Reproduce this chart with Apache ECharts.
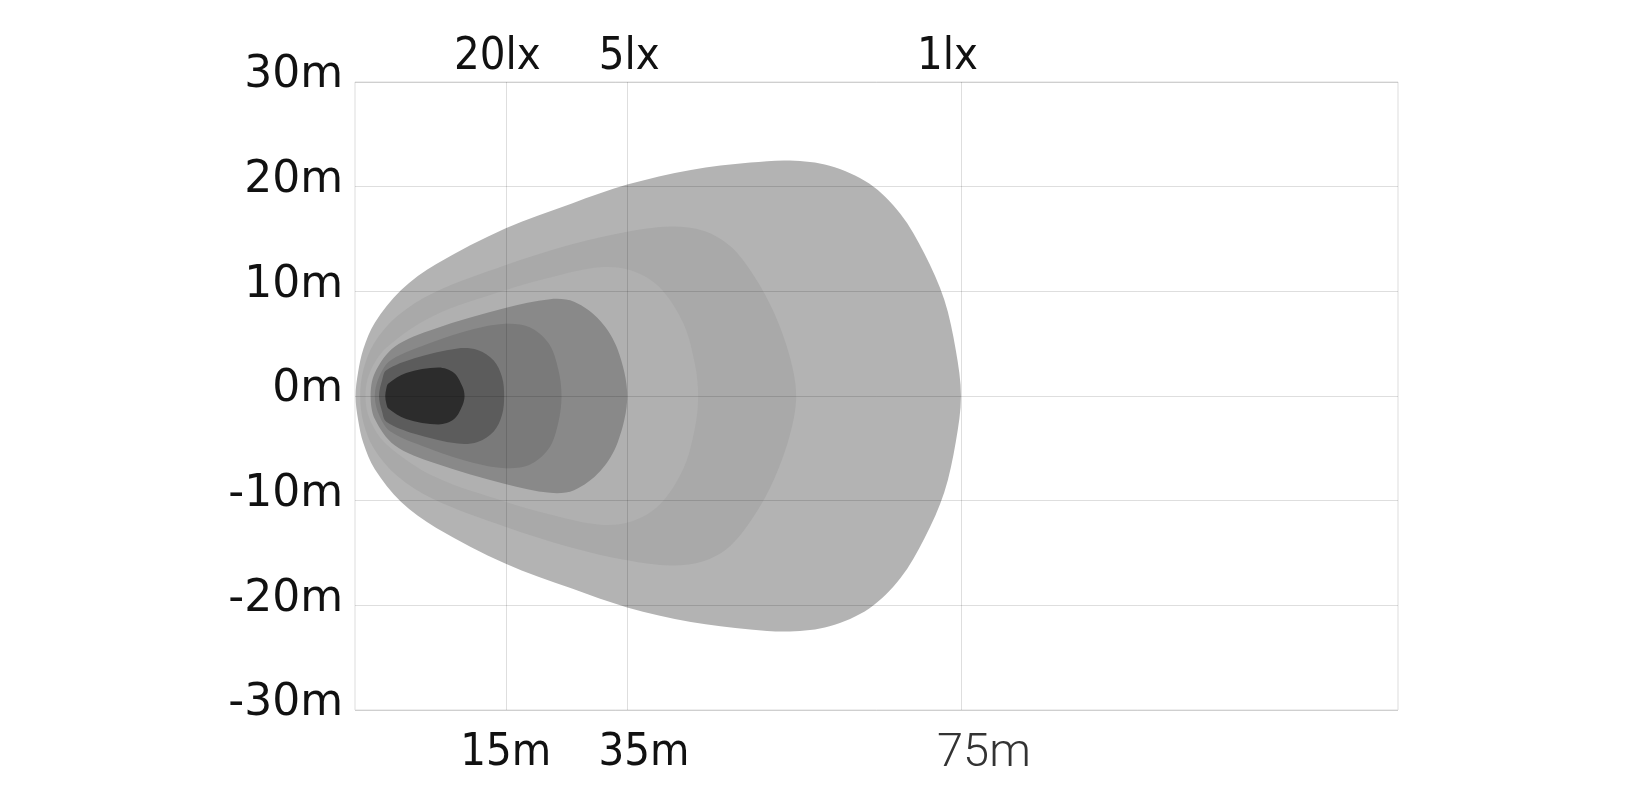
<!DOCTYPE html>
<html><head><meta charset="utf-8">
<script src="https://cdn.jsdelivr.net/npm/echarts@6/dist/echarts.min.js"></script>
<style>html,body{margin:0;padding:0;background:#fff}#chart{width:1642px;height:800px}</style>
</head><body><div id="chart"></div>
<script>
// axis ticks / labels
const yMin = -30, yMax = 30, yStep = 10;
const xGridLines = [14.46, 26.1, 58.1];
const bottomLabels = ['15m', '35m', '75m'];
const bottomLabelPos = [14.46, 27.7, 60.3];
const topLabels = ['20lx', '5lx', '1lx'];
const topLabelPos = [13.65, 26.3, 56.8];

// contour upper halves (x along beam, y lateral in m); lower half is mirrored
const zone1X = [0.05, 0.3, 0.8, 1.9, 4.4, 7.8, 14.4, 20.8, 26.1, 32.2, 37.9, 41.7, 45.5, 49.3, 52.3, 54.6, 56.5, 57.6, 58.1];
const zone1Y = [0, 2.3, 4.5, 7.0, 10.1, 12.6, 16.0, 18.4, 20.2, 21.6, 22.3, 22.5, 22.0, 20.3, 17.4, 13.6, 9.2, 4.4, 0];
const zone2X = [0.5, 0.8, 1.8, 4.0, 7.6, 14.4, 20.8, 26.1, 30.3, 33.4, 36.0, 38.3, 40.2, 41.7, 42.3];
const zone2Y = [0, 2.5, 5.0, 7.6, 9.9, 12.5, 14.5, 15.7, 16.2, 15.8, 14.3, 11.4, 7.9, 3.7, 0];
const zone3X = [1.0, 1.4, 3.0, 7.6, 14.4, 19.0, 23.5, 26.5, 29.2, 31.5, 32.6, 32.9];
const zone3Y = [0, 2.2, 4.6, 7.7, 10.1, 11.4, 12.3, 12.0, 10.4, 6.9, 3.0, 0];
const zone4X = [1.5, 1.9, 3.8, 7.6, 14.4, 18.7, 21.0, 23.5, 25.2, 26.1];
const zone4Y = [0, 2.2, 4.7, 6.4, 8.4, 9.25, 9.0, 7.2, 4.4, 0];
const zone5X = [1.9, 2.3, 3.4, 7.6, 11.4, 14.4, 16.7, 18.6, 19.5, 19.8];
const zone5Y = [0, 1.8, 3.4, 5.2, 6.4, 6.9, 6.6, 5.0, 2.5, 0];
const zone6X = [2.3, 2.6, 3.0, 5.7, 9.85, 11.75, 13.3, 14.1, 14.3];
const zone6Y = [0, 1.5, 2.45, 3.6, 4.55, 4.4, 3.4, 1.8, 0];
const zone7X = [2.9, 3.0, 3.2, 4.9, 8.0, 9.5, 10.3, 10.5];
const zone7Y = [0, 0.7, 1.2, 2.2, 2.72, 2.2, 0.9, 0];
const zoneColors = ['#b3b3b3', '#a9a9a9', '#b0b0b0', '#898989', '#7a7a7a', '#5c5c5c', '#2c2c2c'];

const zones = [[zone1X, zone1Y], [zone2X, zone2Y], [zone3X, zone3Y], [zone4X, zone4Y],
               [zone5X, zone5Y], [zone6X, zone6Y], [zone7X, zone7Y]];

const chart = echarts.init(document.getElementById('chart'), null, {renderer: 'canvas'});
const condFont = '"DejaVu Sans Condensed", "DejaVu Sans", sans-serif';

// smooth closed curve through pixel points (chord-length tangents)
function closedSmoothPath(p) {
  const n = p.length;
  const d = (a, b) => Math.hypot(b[0] - a[0], b[1] - a[1]);
  const tang = [];
  for (let i = 0; i < n; i++) {
    const a = p[(i - 1 + n) % n], b = p[(i + 1) % n], c = p[i];
    const l = d(a, c) + d(c, b) || 1;
    tang.push([(b[0] - a[0]) / l, (b[1] - a[1]) / l]);
  }
  let s = 'M' + p[0][0] + ' ' + p[0][1];
  for (let i = 0; i < n; i++) {
    const j = (i + 1) % n;
    const L = d(p[i], p[j]) / 3;
    const c1 = [p[i][0] + tang[i][0] * L, p[i][1] + tang[i][1] * L];
    const c2 = [p[j][0] - tang[j][0] * L, p[j][1] - tang[j][1] * L];
    s += 'C' + c1[0] + ' ' + c1[1] + ' ' + c2[0] + ' ' + c2[1] + ' ' + p[j][0] + ' ' + p[j][1];
  }
  return s + 'Z';
}

const zoneSeries = zones.map(([xs, ys], i) => ({
  type: 'custom',
  name: 'zone' + (i + 1),
  z: 2,
  silent: true,
  animation: false,
  data: xs.map((x, k) => [x, ys[k]]),
  renderItem: function (params, api) {
    if (params.dataIndex !== 0) return null;
    const pts = [];
    for (let k = 0; k < xs.length; k++) pts.push(api.coord([xs[k], ys[k]]));
    for (let k = xs.length - 2; k >= 1; k--) pts.push(api.coord([xs[k], -ys[k]]));
    return {type: 'path', shape: {pathData: closedSmoothPath(pts)}, style: {fill: zoneColors[i]}};
  }
}));

const option = {
  backgroundColor: '#ffffff',
  animation: false,
  grid: {left: 355, right: 244, top: 82, bottom: 90, show: true, borderColor: '#dddddd', borderWidth: 1, backgroundColor: 'transparent'},
  xAxis: [
    {
      type: 'value', min: 0, max: 100, position: 'bottom',
      axisLine: {show: false}, axisTick: {show: false}, splitLine: {show: false},
      axisLabel: {
        customValues: bottomLabelPos, margin: 21,
        fontFamily: condFont, fontSize: 45, color: '#111',
        formatter: function (v) {
          const i = bottomLabelPos.indexOf(v);
          if (i < 0) return '';
          return i === 2 ? '{thin|' + bottomLabels[i] + '}' : bottomLabels[i];
        },
        rich: {thin: {fontFamily: 'Roboto, "Open Sans", sans-serif', fontWeight: 300, fontSize: 47, color: '#333'}}
      }
    },
    {
      type: 'value', min: 0, max: 100, position: 'top',
      axisLine: {show: false}, axisTick: {show: false}, splitLine: {show: false},
      axisLabel: {
        customValues: topLabelPos, margin: 2,
        fontFamily: condFont, fontSize: 45, color: '#111',
        formatter: function (v) {
          const i = topLabelPos.indexOf(v);
          return i < 0 ? '' : topLabels[i];
        }
      }
    }
  ],
  yAxis: {
    type: 'value', min: yMin, max: yMax, interval: yStep, z: 3,
    axisLine: {show: false}, axisTick: {show: false},
    splitLine: {show: true, lineStyle: {color: 'rgba(0,0,0,0.13)', width: 1}},
    axisLabel: {
      margin: 12, fontFamily: '"DejaVu Sans", sans-serif', fontSize: 44, color: '#111',
      verticalAlign: 'bottom', lineHeight: 12,
      formatter: v => v + 'm'
    }
  },
  series: zoneSeries.concat([{
    type: 'line', name: 'grid', data: [], z: 10, silent: true,
    markLine: {
      silent: true, symbol: ['none', 'none'], animation: false,
      label: {show: false},
      lineStyle: {color: 'rgba(0,0,0,0.13)', width: 1, type: 'solid'},
      emphasis: {disabled: true},
      data: xGridLines.map(v => ({xAxis: v}))
    }
  }])
};
chart.setOption(option);
</script>
</body></html>
